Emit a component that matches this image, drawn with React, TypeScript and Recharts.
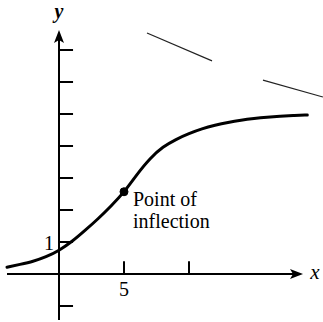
import React from 'react';
import { LineChart, Line, XAxis, YAxis, ReferenceLine, ReferenceDot } from 'recharts';

const xValues = [-4, -3, -2, -1, 0, 1, 2, 3, 4, 5, 6, 7, 8, 9, 10, 11, 12, 13, 14, 15, 16, 17, 18, 19.1];
const yValues = [0.21, 0.3, 0.39, 0.53, 0.73, 1.01, 1.36, 1.72, 2.12, 2.55, 3.12, 3.62, 3.98, 4.21, 4.39, 4.54, 4.65, 4.74, 4.81, 4.86, 4.9, 4.93, 4.95, 4.97];
const yTicks = [-1, 1, 2, 3, 4, 5, 6, 7];
const xTicks = [5, 10];
const xTickLabels = ['5'];
const yTickLabels = ['1'];
const inflection = { x: 5, y: 2.57 };
const strokes = [
  [[6.77, 7.53], [11.77, 6.66]],
  [[15.69, 6.06], [20.3, 5.53]],
];

const data = xValues.map((x, i) => ({ x, y: yValues[i] }));
const serif = '"Liberation Serif", "DejaVu Serif", serif';

export default function App() {
  return (
    <div style={{ position: 'absolute', left: 0, top: 0, background: '#fff' }}>
      <LineChart width={323} height={322} data={data} margin={{ top: 0, right: 0, bottom: 0, left: 0 }}>
        <XAxis dataKey="x" type="number" domain={[-59 / 13, 264 / 13]} allowDataOverflow hide />
        <YAxis type="number" domain={[-1.5, 8.5625]} allowDataOverflow hide width={0} />
        {strokes.map((s, i) => (
          <ReferenceLine key={'s' + i} segment={[{ x: s[0][0], y: s[0][1] }, { x: s[1][0], y: s[1][1] }]} stroke="#222" strokeWidth={1.2} ifOverflow="visible" />
        ))}
        <ReferenceLine segment={[{ x: -4.0, y: 0 }, { x: 18.5, y: 0 }]} stroke="#000" strokeWidth={2} ifOverflow="visible" />
        <ReferenceLine segment={[{ x: 0, y: -1.44 }, { x: 0, y: 7.4 }]} stroke="#000" strokeWidth={2} ifOverflow="visible" />
        {yTicks.map((t) => (
          <ReferenceLine key={'yt' + t} segment={[{ x: 0, y: t }, { x: 1.08, y: t }]} stroke="#000" strokeWidth={2} ifOverflow="visible" />
        ))}
        {xTicks.map((t) => (
          <ReferenceLine key={'xt' + t} segment={[{ x: t, y: 0 }, { x: t, y: 0.4 }]} stroke="#000" strokeWidth={2} ifOverflow="visible" />
        ))}
        <ReferenceDot x={0} y={7.625} r={0} ifOverflow="visible"
          shape={(p: any) => <path d={`M${p.cx},${p.cy} L${p.cx - 5},${p.cy + 13} L${p.cx},${p.cy + 10} L${p.cx + 5},${p.cy + 13} Z`} fill="#000" />} />
        <ReferenceDot x={18.77} y={0} r={0} ifOverflow="visible"
          shape={(p: any) => <path d={`M${p.cx},${p.cy} L${p.cx - 13},${p.cy - 5} L${p.cx - 10},${p.cy} L${p.cx - 13},${p.cy + 5} Z`} fill="#000" />} />
        <Line dataKey="y" type="basis" stroke="#000" strokeWidth={3} strokeLinecap="round" dot={false} activeDot={false} isAnimationActive={false} />
        <ReferenceDot x={inflection.x} y={inflection.y} r={4} fill="#000" stroke="#000" ifOverflow="visible" />
        <ReferenceDot x={inflection.x} y={inflection.y} r={0} ifOverflow="visible"
          shape={(p: any) => (
            <g>
              <text x={p.cx + 9} y={p.cy + 14} fontFamily={serif} fontSize={20} fill="#000">Point of</text>
              <text x={p.cx + 9} y={p.cy + 36} fontFamily={serif} fontSize={20} fill="#000">inflection</text>
            </g>
          )} />
        <ReferenceDot x={xTicks[0]} y={0} r={0} ifOverflow="visible"
          shape={(p: any) => <text x={p.cx} y={p.cy + 22} textAnchor="middle" fontFamily={serif} fontSize={20} fill="#000">{xTickLabels[0]}</text>} />
        <ReferenceDot x={0} y={1} r={0} ifOverflow="visible"
          shape={(p: any) => <text x={p.cx - 10} y={p.cy + 8} textAnchor="middle" fontFamily={serif} fontSize={20} fill="#000">{yTickLabels[0]}</text>} />
        <ReferenceDot x={18.77} y={0} r={0} ifOverflow="visible"
          shape={(p: any) => <text x={p.cx + 12} y={p.cy + 5} textAnchor="middle" fontFamily={serif} fontStyle="italic" fontSize={21} fill="#000">x</text>} />
        <ReferenceDot x={0} y={7.625} r={0} ifOverflow="visible"
          shape={(p: any) => <text x={p.cx} y={p.cy - 12} textAnchor="middle" fontFamily={serif} fontStyle="italic" fontWeight="bold" fontSize={20} fill="#000">y</text>} />
      </LineChart>
    </div>
  );
}
